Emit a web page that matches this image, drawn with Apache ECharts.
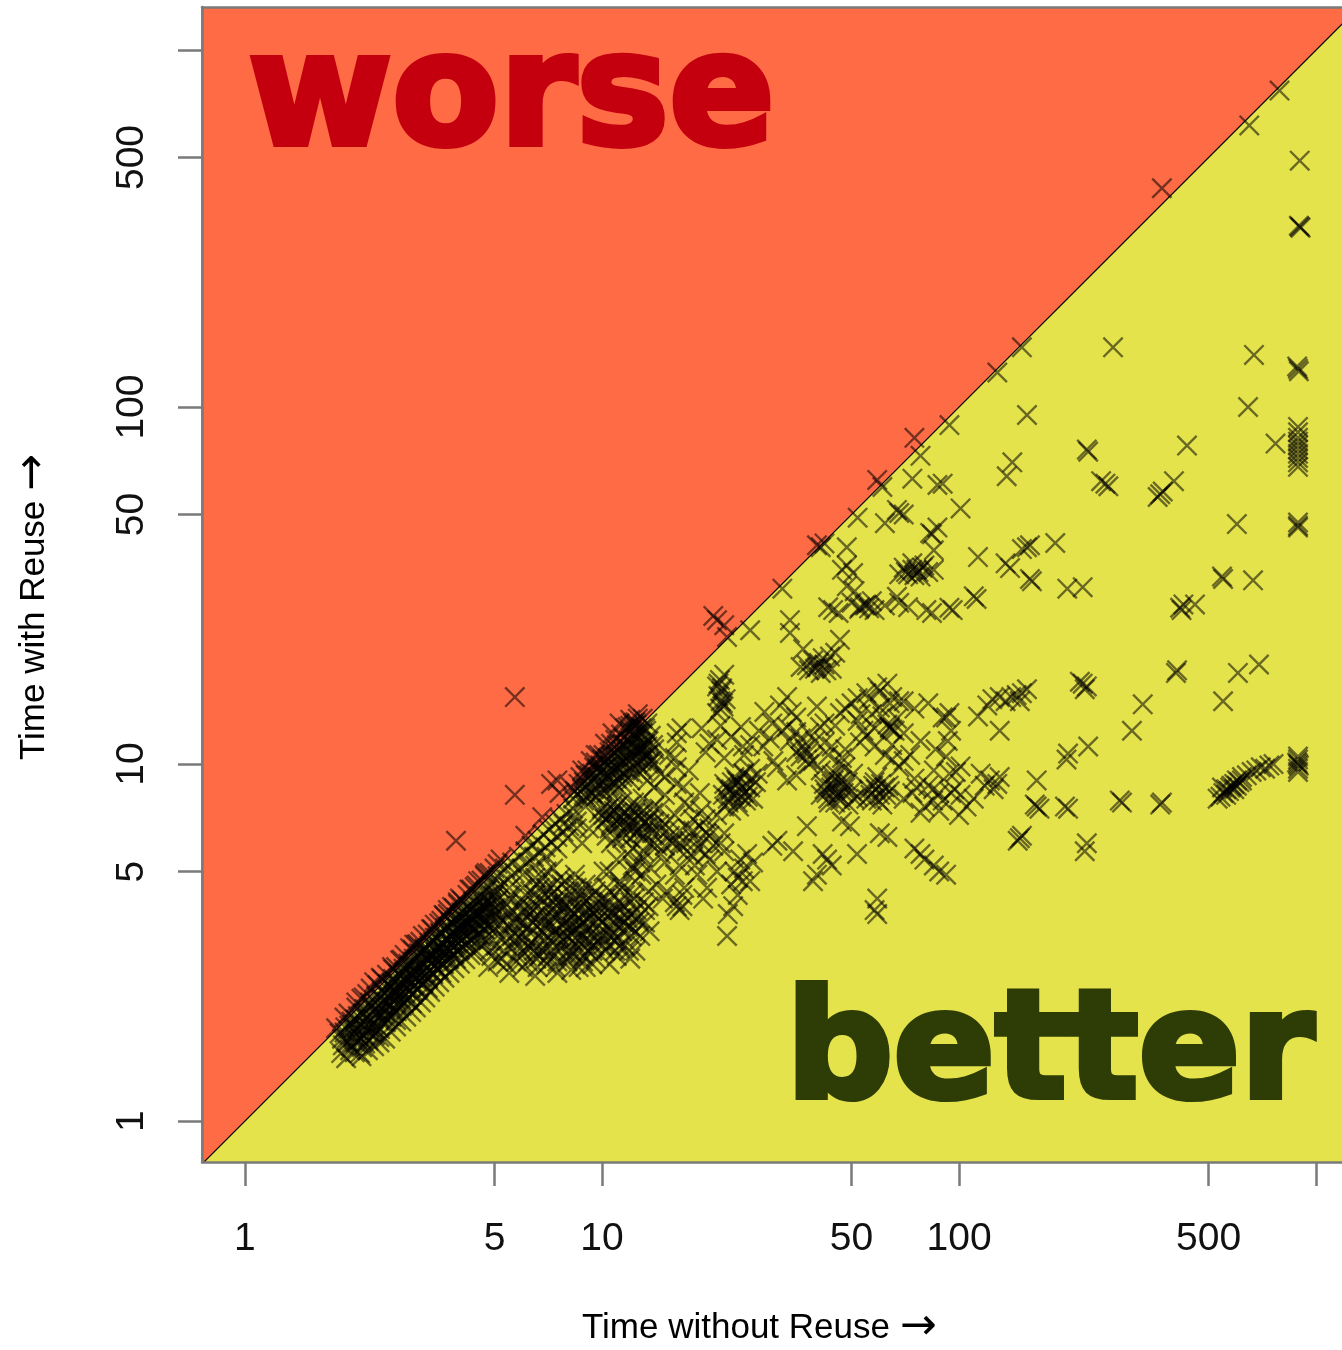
<!DOCTYPE html>
<html><head><meta charset="utf-8">
<script src="https://cdn.jsdelivr.net/npm/echarts@6/dist/echarts.min.js"></script>
<style>html,body{margin:0;padding:0;background:#fff}#chart{width:1342px;height:1350px}</style>
</head><body><div id="chart"></div>
<script>
// ---- axes (values in seconds, log scale) ----
const xTickValues = [1, 5, 10, 50, 100, 500, 1000];
const xLabelValues = [1, 5, 10, 50, 100, 500];
const yTickValues = [1, 5, 10, 50, 100, 500, 1000];
const yLabelValues = [1, 5, 10, 50, 100, 500];
const xRange = [0.758, 1182];
const yRange = [0.768, 1320];
const diagonal = [0.5, 2000];   // y = x reference line

// ---- data: [time without reuse, time with reuse] ----
const outliersWorse = [[5.7,15.4],[5.7,8.2],[3.9,6.1],[370,410],[21,25.3],[22,24.5],[20.5,26],[75,82],[5.2,5.4],[6.1,6.3],[6.8,7.1],[4.7,4.9]];

const diagonalBandLow = [
[1.84,1.76],[1.88,1.63],[1.91,1.83],[1.93,1.71],[1.97,1.58],[1.99,1.9],[2.02,1.77],[2.04,1.66],[2.07,1.97],[2.09,1.84],[2.11,1.7],[2.13,1.61],[2.16,2.06],[2.18,1.93],[2.19,1.79],[2.22,1.68],[2.24,2.15],[2.26,2.01],[2.28,1.87],[2.31,1.74],[2.33,2.24],[2.35,2.09],[2.37,1.95],[2.39,1.81],[2.42,2.31],[2.44,2.17],[2.46,2.03],[2.48,1.89],[2.51,2.42],[2.53,2.25],[2.55,2.11],[2.57,1.96],[2.6,2.5],[2.62,2.34],[2.64,2.19],[2.66,2.03],[2.69,2.58],[2.71,2.42],[2.73,2.27],[2.75,2.1],[2.78,2.67],[2.8,2.51],[2.82,2.35],[2.84,2.18],[2.87,2.76],[2.89,2.6],[2.92,2.43],[2.94,2.26],[2.97,2.85],[2.99,2.68],[3.02,2.51],[3.04,2.33],[3.07,2.95],[3.1,2.77],[3.12,2.6],[3.15,2.42],[3.18,3.04],[3.21,2.86],[3.23,2.68],[3.26,2.5],[3.29,3.15],[3.32,2.95],[3.34,2.77],[3.37,2.58],[3.4,3.26],[3.43,3.05],[3.46,2.86],[3.49,2.66],[3.52,3.37],[3.55,3.15],[3.58,2.95],[3.61,2.75],[3.64,3.48],[3.67,3.26],[3.7,3.05],[3.73,2.84],[3.77,3.6],[3.8,3.37],[3.83,3.15],[3.86,2.93],[3.9,3.72],[3.93,3.48],[3.96,3.25],[4.0,3.02],[4.04,3.85],[4.07,3.6],[4.11,3.36],[4.15,3.12],[4.19,3.98],[4.22,3.72],[4.26,3.47],[4.3,3.22],[4.35,4.12],[4.39,3.85],[4.43,3.58],[4.48,3.33],[4.53,4.27],[4.57,3.98],[4.62,3.7],[4.67,3.44],[4.73,4.42],[4.78,4.12],[4.84,3.83],[4.9,4.58],[4.96,4.26],[5.02,3.96],
[2.0,1.86],[2.14,1.98],[2.27,1.82],[2.41,2.12],[2.56,2.38],[2.68,2.22],[2.83,2.47],[2.96,2.73],[3.08,2.55],[3.22,2.93],[3.36,2.81],[3.5,3.08],[3.63,2.98],[3.78,3.3],[3.92,3.4],[4.06,3.7],[4.2,3.55],[4.36,3.95],[4.5,3.8],[4.66,4.05],[2.3,2.05],[2.62,2.28],[2.95,2.58],[3.3,2.9],[3.66,3.2],[4.02,3.52],[4.4,3.78],
[1.95,2.0],[2.2,2.27],[2.5,2.57],[2.75,2.83],[3.05,3.13],[3.35,3.44],[3.7,3.8],[4.05,4.15],[4.45,4.57],[4.85,4.95],
[2.1,1.55],[2.38,1.72],[2.65,1.92],[2.93,2.14],[3.25,2.36],[3.55,2.6],[3.9,2.85],[4.25,3.05],[4.6,3.28]
];

const diagonalBandDense = [
[1.87,1.7],[1.9,1.77],[1.94,1.66],[1.96,1.85],[2.01,1.72],[2.03,1.93],[2.06,1.8],[2.08,1.68],[2.12,1.87],[2.15,2.0],[2.17,1.74],[2.21,1.96],[2.23,1.83],[2.25,2.1],[2.29,1.93],[2.32,2.15],[2.34,1.79],[2.36,2.02],[2.4,2.22],[2.43,1.98],[2.45,2.28],[2.47,2.08],[2.5,1.92],[2.52,2.33],[2.54,2.15],[2.58,2.43],[2.59,2.05],[2.61,2.24],[2.63,2.46],[2.67,2.12],[2.7,2.35],[2.72,2.55],[2.74,2.2],[2.77,2.43],[2.79,2.62],[2.81,2.28],[2.86,2.52],[2.88,2.71],[2.9,2.32],[2.93,2.56],[2.95,2.8],[2.98,2.4],[3.01,2.62],[3.03,2.86],[3.06,2.45],[3.09,2.7],[3.11,2.94],[3.14,2.52],[3.17,2.78],[3.19,3.02],[3.22,2.58],[3.25,2.85],[3.28,3.1],[3.31,2.64],[3.33,2.9],[3.36,3.18],[3.39,2.72],[3.42,2.98],[3.45,3.26],[3.48,2.8],[3.51,3.05],[3.54,3.34],[3.57,2.86],[3.6,3.12],[3.63,3.42],[3.66,2.94],[3.69,3.2],[3.72,3.5],[3.75,3.0],[3.79,3.28],[3.82,3.58],[3.85,3.07],[3.88,3.36],[3.91,3.64],[3.95,3.14],[3.98,3.44],[4.02,3.72],[4.05,3.22],[4.09,3.52],[4.13,3.8],[4.17,3.3],[4.21,3.62],[4.24,3.9],[4.28,3.38],[4.32,3.7],[4.37,4.0],[4.41,3.46],[4.46,3.78],[4.5,4.1],[4.55,3.54],[4.6,3.88],[4.64,4.2],[4.69,3.62],[4.75,3.96],[4.8,4.3],[4.86,3.7],[4.92,4.05],[4.98,4.4],[5.05,3.8],[5.1,4.15],[5.15,4.5],
[2.05,2.08],[2.35,2.4],[2.65,2.7],[2.95,3.02],[3.25,3.33],[3.55,3.64],[3.85,3.95],[4.2,4.3],[4.6,4.72],[5.0,5.1],[1.8,1.82]
];

const diagonalBandWide = [
[1.86,1.55],[1.92,1.5],[1.98,1.62],[2.03,1.56],[2.08,1.74],[2.12,1.52],[2.17,1.65],[2.21,1.58],[2.26,1.76],[2.3,1.62],[2.34,1.85],[2.38,1.66],[2.43,1.9],[2.47,1.7],[2.52,1.98],[2.56,1.78],[2.61,2.02],[2.65,1.84],[2.7,2.08],[2.74,1.9],[2.79,2.14],[2.83,1.96],[2.88,2.22],[2.92,2.02],[2.97,2.3],[3.01,2.08],[3.06,2.36],[3.11,2.15],[3.16,2.44],[3.2,2.22],[3.25,2.52],[3.3,2.3],[3.35,2.6],[3.4,2.38],[3.45,2.68],[3.5,2.45],[3.56,2.76],[3.62,2.52],[3.68,2.84],[3.74,2.6],[3.8,2.92],[3.86,2.68],[3.93,3.0],[4.0,2.76],[4.07,3.08],[4.14,2.84],[4.21,3.16],[4.28,2.92],[4.36,3.24],[4.44,3.0],[4.52,3.34],[4.6,3.1],[4.7,3.45],[4.8,3.2],[4.9,3.55],
[2.02,1.82],[2.18,1.86],[2.33,2.0],[2.49,2.16],[2.64,2.3],[2.8,2.4],[2.96,2.52],[3.12,2.7],[3.28,2.82],[3.44,2.96],[3.6,3.02],[3.76,3.16],[3.92,3.3],[4.08,3.44],[4.24,3.58],[4.4,3.66],[4.56,3.82],[4.72,3.92],[4.88,4.1],
[2.12,2.2],[2.42,2.5],[2.72,2.82],[3.02,3.12],[3.32,3.45],[3.62,3.76],[3.95,4.1],[4.3,4.45],[4.7,4.85],[5.1,5.25]
];

const diagonalBandRedSide = [
[1.9,1.95],[2.05,2.15],[2.25,2.35],[2.4,2.52],[2.58,2.7],[2.8,2.92],[2.98,3.12],[3.15,3.3],[3.4,3.55],[3.6,3.78],[3.8,3.98],[4.0,4.2],[4.25,4.45],[4.5,4.7],[4.75,4.95],[2.15,2.22],[2.6,2.66],[3.1,3.18],[3.5,3.58],[3.95,4.05],[4.4,4.52],[2.3,2.45],[2.9,3.05],[3.7,3.9]
];

const diagonalBandMid = [
[5.1,4.85],[5.2,4.6],[5.35,5.1],[5.45,4.75],[5.6,5.3],[5.7,4.95],[5.85,5.5],[5.95,5.1],[6.1,5.7],[6.2,5.3],[6.35,5.9],[6.45,5.5],[6.6,6.1],[6.7,5.65],[6.85,6.35],[6.95,5.85],[7.1,6.55],[7.2,6.05],[7.4,6.8],[7.5,6.25],[7.65,7.0],[7.8,6.45],[7.95,7.25],[8.1,6.7],[8.3,7.5],[8.5,6.9],[5.0,4.3],[5.5,4.5],[6.0,4.9],[6.5,5.2],[6.8,4.8],[7.0,5.5],[7.3,5.1],[7.5,5.8],[7.8,6.8],[8.0,6.2],[8.3,7.2],[8.5,6.6],[8.8,6.0],[9.0,7.6],[9.2,6.6]
];

const lowerBlob = [
[4.6,3.2],[4.8,3.5],[4.9,2.9],[5.1,3.3],[5.2,3.7],[5.3,3.0],[5.4,2.75],[5.5,3.5],[5.6,3.9],[5.7,3.2],[5.8,2.9],[5.9,3.6],[6.0,4.1],[6.1,3.3],[6.2,2.8],[6.3,3.8],[6.4,3.1],[6.5,4.3],[6.6,3.5],[6.7,2.9],[6.8,3.9],[6.9,3.2],[7.0,4.5],[7.1,3.6],[7.2,3.0],[7.3,4.1],[7.4,3.4],[7.5,2.8],[7.6,3.8],[7.7,4.6],[7.8,3.2],[7.9,3.6],[8.0,4.2],[8.1,3.0],[8.2,3.9],[8.3,3.4],[8.4,4.7],[8.5,3.1],[8.6,3.7],[8.7,4.3],[8.8,3.3],[8.9,2.9],[9.0,3.9],[9.2,3.5],[9.3,4.5],[9.4,3.1],[9.5,3.8],[9.7,3.3],[9.8,4.1],[10.0,3.6],[10.2,3.0],[10.4,3.9],[10.6,3.4],[10.8,4.3],[11.0,3.2],[11.3,3.7],[11.6,3.1],[12.0,3.5],[12.4,3.0],[12.8,3.3],[13.2,3.6],[5.0,3.9],[5.5,4.2],[6.0,4.5],[6.5,4.8],[7.0,5.0],[6.2,3.5],[6.8,3.4],[7.4,3.7],[8.0,3.5],[8.6,3.2],[9.0,3.4],[5.8,3.4],[7.6,3.3],[8.4,3.8],[9.6,3.6],
[5.5,2.6],[6.5,2.55],[7.5,2.6],[9,2.7],[10.5,2.75],[12,2.85],[4.8,2.7],
[6.6,4.0],[7.2,4.3],[7.9,4.0],[8.8,3.6],[9.4,4.0],[6.4,3.6],[7.0,3.3],[7.7,3.1],[8.3,2.95],[5.3,3.6],[5.9,3.05],[6.9,3.75],[7.5,4.0],[8.1,3.65],[8.9,4.1],[9.9,3.4],[10.8,3.6],[11.5,4.0]
];

const lowerBlobDense = [
[5.05,3.1],[5.15,3.55],[5.25,2.85],[5.35,3.35],[5.45,3.8],[5.55,3.05],[5.65,3.6],[5.75,2.8],[5.85,3.25],[5.95,3.85],[6.05,2.95],[6.15,3.45],[6.25,4.0],[6.35,3.15],[6.45,3.7],[6.55,2.85],[6.65,3.3],[6.75,4.2],[6.85,3.05],[6.95,3.55],[7.05,4.05],[7.15,3.2],[7.25,3.75],[7.35,2.9],[7.45,3.45],[7.55,4.25],[7.65,3.05],[7.75,3.55],[7.85,4.05],[7.95,3.3],[8.05,3.8],[8.15,2.9],[8.25,3.5],[8.35,4.1],[8.45,3.25],[8.55,3.9],[8.65,2.95],[8.75,3.55],[8.85,4.2],[8.95,3.2],[9.05,3.7],[9.15,3.0],[9.25,3.9],[9.35,3.35],[9.45,4.3],[9.55,3.1],[9.65,3.75],[9.75,3.2],[9.9,3.95],[10.05,3.3],[10.3,3.75],[10.5,3.1],[10.7,3.85],[10.9,3.35],[11.2,4.1],[11.4,3.4],[11.7,3.8],[12.1,3.3],[12.5,3.9],[6.1,4.3],[6.7,4.5],[7.3,4.6],[7.9,4.7],[8.5,4.5],[5.4,4.05],[6.0,2.7],[7.0,2.75],[8.0,2.8],[8.6,2.7],[9.6,2.85],[11.0,2.9]
];

const lowerBlobWide = [
[4.7,3.6],[4.85,3.0],[5.0,3.45],[5.1,2.8],[5.25,3.9],[5.4,3.2],[5.55,4.3],[5.7,3.7],[5.85,4.0],[6.0,3.2],[6.15,3.85],[6.3,4.4],[6.45,3.0],[6.6,4.6],[6.75,3.6],[6.9,4.3],[7.05,2.9],[7.2,3.9],[7.35,4.4],[7.5,3.25],[7.65,4.8],[7.8,3.95],[7.95,2.85],[8.1,4.4],[8.25,3.2],[8.4,4.9],[8.55,3.45],[8.7,4.0],[8.85,2.8],[9.0,4.6],[9.2,3.7],[9.4,3.0],[9.6,4.4],[9.8,3.7],[10.0,3.1],[10.3,4.5],[10.6,3.8],[10.9,3.0],[11.2,4.6],[11.5,3.6],[11.9,3.0],[12.3,4.2],[12.7,3.6],[13.1,4.1],[13.6,3.4],[6.0,3.6],[6.4,3.9],[6.8,3.0],[7.2,3.5],[7.6,4.1],[8.0,3.3],[8.4,3.6],[8.8,4.4],[9.2,3.2],[9.6,3.9],[10.0,4.2],[10.4,3.5],[10.8,3.2],[11.2,3.5],[11.6,4.3],[12.0,3.8],[12.4,3.4],[5.6,3.3],[6.2,3.1],[6.6,2.7],[7.4,2.7],[8.2,2.65],[9.4,2.75]
];

const blobNearTen = [
[8.5,8.2],[9,8.6],[9,8.1],[9.5,9.1],[9.5,8.5],[10,9.6],[10,9],[10,8.5],[10.5,10],[10.5,9.3],[10.5,8.7],[11,10.5],[11,9.8],[11,9.1],[11,8.5],[11.5,10.8],[11.5,10.1],[11.5,9.4],[12,11.5],[12,10.6],[12,9.8],[12,9],[12.5,11.8],[12.5,10.9],[12.5,10.1],[13,12.2],[13,11.2],[13,10.4],[13.5,11.6],[13.5,10.7],[9.8,9.5],[10.8,9.9],[11.8,11],[12.8,11.5],[8.8,8.5],[9.3,8.9],[10.3,9.8],[11.3,10.3],[12.3,11.2],[13.3,12.4],[14,11],[14,10],
[11.2,13],[12,13.3],[10.7,12.2],[11.6,12.6],[10.2,11.4],[12.6,13.8],[9.8,10.6],[9.3,10.2],[8.8,9.6],[8.2,8.6],[8.7,9.2],[9.1,9.6],[9.6,10.1],[10.1,10.6],[7.5,9],[7.2,8.8],[7.6,8.3],
[9.8,7.3],[10.2,7],[10.8,7.4],[11.2,6.8],[11.8,7.2],[12.2,6.6],[12.8,7],[13.4,6.7],[10.5,6.6],[11.5,6.4],[12.5,7.5],[10,6.8],[11,7.6],[13,6.4],[14,6.9],[14.5,6.5],[14,6],[15,6.8],
[10.2,4.2],[10.8,3.8],[11.4,4.5],[12,4.1],[12.6,3.7],[10.5,3.3],[11.2,3.1],[11.8,3.5],[12.4,4.7],[10.1,5],[11,5.4],[12.2,5.2],[12.9,4.9],[13.5,4.4],[13.2,3.9]
];

const blobNearTenDense = [
[8.3,8.0],[8.6,8.8],[8.9,8.2],[9.2,9.3],[9.4,8.3],[9.7,9.7],[9.9,8.8],[10.2,10.1],[10.4,9.1],[10.6,10.5],[10.9,9.5],[11.1,10.9],[11.3,9.7],[11.6,11.3],[11.9,10.2],[12.1,11.8],[12.4,10.5],[12.7,12.2],[12.9,10.9],[13.2,12.6],[13.4,11.2],[13.7,12.0],[9.0,9.3],[9.5,9.8],[10.0,10.3],[10.5,10.8],[11.0,11.3],[11.5,11.8],[12.0,12.4],[12.5,12.9],[10.8,8.9],[11.4,8.8],[12.2,9.4],[12.9,9.8],[13.6,10.2],[9.6,8.1],[10.3,8.3],
[10.4,7.1],[11.0,6.9],[11.6,7.3],[12.1,6.9],[12.7,7.2],[13.2,6.9],[10.7,7.7],[11.9,7.6],
[8.4,8.4],[8.9,8.9],[9.4,9.4],[9.9,9.9],[10.4,10.4],[10.9,10.8],[11.4,11.3],[11.9,11.7],[12.4,12.2],[12.9,12.6],[13.4,13.0],[8.9,7.9],[9.4,8.2],[9.9,8.3],[10.4,8.6],[10.9,8.8],[11.4,9.2],[11.9,9.5],[12.4,9.7],[12.9,10.2],[13.4,10.6],[13.9,11.3],[9.7,9.2],[10.2,9.4],[10.7,9.6],[11.2,10.0],[11.7,10.4],[12.2,10.9],[12.7,11.0],[13.2,11.4],[10.6,11.4],[11.3,12.1],[12.3,12.8],[13.0,13.4],[9.6,10.6],[10.9,11.7],
[10.1,7.2],[10.6,6.8],[11.3,7.1],[11.7,6.7],[12.4,7.3],[12.9,6.7],[13.5,7.0],[10.4,7.5],[11.0,7.3],[12.0,7.1],[13.1,7.4],[13.8,6.6],
[10.3,6.3],[10.9,6.2],[11.5,6.9],[12.0,6.2],[12.6,6.5],[10.0,7.5],[11.3,7.8],[12.3,7.8],[10.6,7.2],[11.8,6.6]
];

const middleBand = [
[21.4,17.2],[21,16.5],[22,17.8],[21.6,16],[21.8,14.8],[21.4,14.3],[22.2,15.2],[21,13.9],
[33,15.4],[21,11.7],[16.2,11.5],[16.2,9.8],[12.2,13],[12.6,13.4],[11.8,12.7],
[55,15.8],[60,16],[52,15.3],[59,16.4],[63,16.8],[65,15.4],[70,15],[46.4,13.9],[48,14.3],
[64,12.6],[66,12.4],[63,12.9],[52.8,11.5],[37.5,10.7],[36,10.5],[33,12.7],[35,12.3],[40.8,12.7],[42,13],
[28.3,11.2],[24.8,11.2],[30.9,9.8],[24.8,9.4],[26,9.7],
[22,8.8],[23,8.5],[24,8.9],[25,8.3],[22.5,8],[24,7.8],[26,8.6],[23.5,9.2],[22,7.6],[25,9.4],[27,8.9],[26.5,8],[23,7.4],[24.5,8.1],[22.8,8.4],[25.5,8.7],[21.8,8.2],
[27.3,9.4],[30.2,10.2],
[42,8.5],[44,8.8],[46,8.2],[48,8.6],[45,7.8],[43,8],[50,8.4],[47,9],[44,9.3],[41,8.2],[49,7.7],[46,8.9],[52,8.1],[45,8.5],
[56,8.5],[58,8.9],[60,8.2],[62,8.6],[57,7.9],[64,8.4],[59,9.2],[55,8],[61,7.7],
[37.5,10.3],[38,10],[33,9],[35,9.3],[36.6,11.2],[46.4,10],[50.5,9.4],
[84.6,8.5],[82,8.7],[88,8.3],[84.6,7.9],[94,9.4],[68,9.8],[70,10.2],[65,10.3],[74,8.3],[76,8.6],[78,7.3],[88,7.4],
[49.5,6.7],[47,6.9],[37.5,6.7],[63,6.25],[60,6.4],[51.8,5.6],[42.7,5.4],[44,5.2],[41.5,5.6],[78,5.6],[75,5.8],[80,5.4],[88,5],[85,5.2],[92,4.9],[59,4.2],[58,3.9],[59,3.8],
[34.3,5.7],[30,5.9],[31,6.1],[25.5,5.6],[26.5,5.3],[39,4.7],[40,4.9],
[24.4,5.4],[23.5,5],[25,5.1],[24,4.8],[26,4.7],[23,4.6],[24.8,4.7],[23.3,4],[24,4.3],[22.5,3.8],[22.4,3.3],
[16.2,4],[16.5,3.9],[16,4.1],[16.8,4],[19.7,4.5],[17.3,5.7],[18,5.5],[20.5,5.9],[19.5,5.6],[21.5,6],[20,6.3],[22,5.7],
[18.8,6.7],[18,6.5],[19.5,7],[17.6,7.6],[13.9,7.3],[14.5,7.5],[13,6.25],[12.5,6.4],[13.6,6],[15.8,6.1],[16.5,6],[15,5.9],
[12.2,5.1],[12.8,5.3],[11.2,3.9],[10.5,4.1],[11.8,3.7],[12.2,4.35],[16.2,12.2],[16.7,12.6],[13,9.6],[13.5,10],[16.9,8.6],[18.8,8.3],
[35,13.5],[38,12.2],[42,11.5],[45,12.8],[48,11],[55,12],[58,11.2],[62,10.6],[52,13.2],[57,13.8],[40,14.5],[36,11.8],
[68,15],[75,14.3],[82,14.8],[90,13.5],[95,12.4],[70,12.2],[78,11.6],[86,11],[92,10.5],[65,11.3],[73,10.6],
[70,8.0],[80,7.6],[90,7.9],[95,8.3],[75,9.1],[85,9.6],[100,7.2],[105,7.6],[110,8.0],
[13,8],[14,7.6],[15,8.2],[16,7.2],[17,7.8],[18,7.0],[19,7.4],[14.5,6.8],[16.5,6.5],[18,6.2],[20,6.6],[21,7.2],[22,6.4],[15.5,6.3]
];

const middleClusters = [
[22.3,8.6],[23.4,8.2],[24.6,8.6],[25.6,8.1],[23.8,9.0],[26.2,9.1],[22.6,7.8],[24.2,7.6],[25.3,7.9],[23.1,8.9],
[42.5,8.3],[43.8,8.6],[45.5,8.1],[47.5,8.3],[48.8,8.9],[44.6,9.0],[46.5,7.9],[43.2,7.8],[50.8,8.0],[41.8,8.8],
[56.5,8.2],[58.5,8.5],[60.5,8.8],[62.5,8.2],[57.5,8.7],[59.5,7.9],[63.5,8.7],
[21.2,16.8],[21.7,16.3],[21.5,15.0],[21.9,14.5],[21.2,15.5],
[39.5,18.5],[40.5,19.2],[42.5,18.3],[41.5,19.8],[37.5,18.9],
[74,35],[77,34.5],[79,35.5],[71,34.5],[75,33.8],
[52.5,27.2],[54.5,27.8],[56,27.3],
[64,12.7],[65,12.5],[12.4,13.1],[12.0,12.8],
[10.5,5.0],[11.2,4.7],[11.8,5.6],[12.4,5.0],[13.1,5.7],[13.7,5.1],[14.3,5.9],[15,5.3],[15.8,6.0],[16.5,5.2],[17.2,6.0],[18.2,5.2],[19,6],[10.6,6.0],[11.4,6.2],[12.2,5.8],[13,5.5],[13.8,6.4],[14.6,5.6],[15.4,6.6],[16.3,5.8],[17.4,6.6],[18.6,5.8],[19.6,6.4],[14.2,4.6],[15.2,4.4],[16,4.9],[17,4.5],[18.5,4.9],[20,5.4],[21,5.0],[13.5,4.0],[14.8,4.2],[16.8,4.3],[19.2,4.2]
];

const middleCloud = [
[13,11],[13.8,10.2],[14.6,9.4],[15.4,10.6],[16.2,8.8],[14,8.6],[15,9.2],[13.4,9],[16,10.4],[17.5,9.6],
[19,12.6],[20,11.4],[21.5,12.8],[23,11.9],[24.5,12.7],[26,11.3],[27.5,12.4],[19.5,10.8],[22,10.4],[25,10.6],
[28.5,14],[30,13],[31.5,14.6],[33.5,11.6],[35,10.8],[29.5,11.8],[32,12.4],[34,14],
[37,11],[39,10.2],[41,9.6],[43,10.6],[45,9.4],[47,10.4],[39.5,11.6],[44,11.2],[48,9.8],
[50,14.8],[53,13.8],[56,15.2],[58,12.6],[61,13.6],[64,14.8],[67,13.4],[54,12.4],[60,14.4]
];

const middleUpper = [
[78,73],[74,63],[87,60.5],[61,59.7],[59,62.5],[68,50.5],[70,50],[67,51.5],[52,49],[62,47.3],[87,46],[84,44],[83,44.4],[41,40.5],[40,41],[42,41.5],[48.5,40.5],[85,39.7],[48.5,36],[47,35],
[76,35],[72,34],[80,36],[70,35.5],[78,33.5],[82,34.5],[74,36.5],[68,34],[85,35],
[50.5,34.3],[48.5,31.5],[51,30.5],[32,31],[67,29.4],
[22.4,22.7],[26,23.7],[33.6,25.3],[33.6,23.3],[36.6,21],
[44.4,27],[46,26.5],[43,27.5],[46.4,22.3],
[40,18.7],[38,18.3],[42,19],[44,18.5],[39,19.5],[41,18],[36,18.7],[43.5,20],[45,20.5],
[52.8,27.5],[55,28],[58,27],[50,28.3],[57,28.6],[62,27.8],[68,28.3],[72,27.5],[81,27],[84,26.5]
];

const upperSparse = [
[790,770],[650,615],[900,490],[900,320],[905,318],[895,322],[270,147],[670,140],[150,147],[128,125],[94,89],[155,95],[890,128],[895,126],[885,130],[645,100],[770,79],
[890,88],[890,85],[890,82],[890,80],[890,78],[890,76],[890,74],[890,72],[890,70],[890,68],
[435,78],[230,75],[228,76],[400,62],[366,57],[360,56],[372,58],[257,61],[262,60],[250,62],
[141,70],[136,64],[101,52],[90,61],[600,47],[890,46.5],[890,47.5],[890,46],
[186,41.6],[155,40.5],[150,40],[158,41],[113,38],[139,35.4],[135,36.5],[158,33],[160,32.5],
[94,27.4],[96,27],[112,29],[110,29.5],[201,31],[222,31.3],[549,33],[545,33.5],[666,32.7],
[416,27.4],[420,27],[425,28],[458,28]
];

const rightLower = [
[408,18.3],[405,18],[604,18],[692,19],[549,15],[327,14.7],[305,12.4],
[222,16.8],[218,17],[228,16.5],[225,16.2],[230,11.2],[202,10.7],[200,10.3],[165,9],
[145,15.6],[140,15.4],[150,15.8],[135,15],[130,15.4],[155,16.2],[148,15],
[124,15.2],[120,14.6],[113,13.6],[130,12.4],[94,13.9],[92,13.5],[93,11.6],[101,9.85],[98,9.5],
[122,9],[118,8.7],[128,8.8],[115,9.4],[125,8.5],[130,9.2],[101,8.2],[97,8.5],
[148,6.2],[146,6.1],[150,6.3],[165,7.6],[163,7.7],[168,7.5],[202,7.5],[198,7.6],[228,6],[225,5.7],
[286,7.8],[282,7.9],[370,7.8],[366,7.7],
[540,8.1],[550,8.3],[560,8.5],[570,8.4],[580,8.7],[590,8.8],[600,9.0],[610,8.9],[620,9.2],[640,9.3],[660,9.5],[680,9.6],[700,9.8],[560,8.2],[575,8.6],[590,8.5],[620,9.0],[530,8.0],[545,8.6],[600,8.7],[720,9.7],[740,9.9],[760,10.0],
[890,10.3],[890,10],[890,9.7],[890,10.5],[890,9.5],[885,10.1],[895,9.9]
];

const L = v => Math.log10(v);
const allPoints = [].concat(outliersWorse, diagonalBandLow, diagonalBandDense, diagonalBandWide, diagonalBandRedSide, diagonalBandMid,
  lowerBlob, lowerBlobDense, lowerBlobWide, blobNearTen, blobNearTenDense, middleBand, middleClusters, middleCloud,
  middleUpper, upperSparse, rightLower);
const scatterData = allPoints.map(p => [L(p[0]), L(p[1])]);
const diagData = diagonal.map(v => [L(v), L(v)]);
const fmt = v => String(Math.round(Math.pow(10, v)));

const AX = '#7a7a7a';
const titleRich = {
  t: {fontSize: 35, fontFamily: 'Liberation Sans', color: '#111'},
  a: {fontSize: 44, fontFamily: 'DejaVu Sans', color: '#111'}
};
const chart = echarts.init(document.getElementById('chart'), null, {renderer: 'canvas'});
chart.setOption({
  animation: false,
  backgroundColor: '#ffffff',
  grid: {left: 202, right: 0, top: 7, bottom: 188, show: true, backgroundColor: '#E5E34C', borderWidth: 0},
  xAxis: [{
    type: 'value', position: 'bottom', min: L(xRange[0]), max: L(xRange[1]), z: 6,
    axisLine: {show: true, onZero: false, lineStyle: {color: AX, width: 2.5}},
    axisTick: {show: true, inside: false, length: 24, customValues: xTickValues.map(L), lineStyle: {color: AX, width: 2.5}},
    axisLabel: {show: true, customValues: xLabelValues.map(L), formatter: fmt, margin: 58, fontSize: 39, fontFamily: 'Liberation Sans', color: '#111'},
    splitLine: {show: false}
  }, {
    type: 'value', position: 'top', min: L(xRange[0]), max: L(xRange[1]), z: 6,
    axisLine: {show: true, onZero: false, lineStyle: {color: AX, width: 2.5}},
    axisTick: {show: false}, axisLabel: {show: false}, splitLine: {show: false}
  }],
  yAxis: [{
    type: 'value', position: 'left', min: L(yRange[0]), max: L(yRange[1]), z: 6,
    axisLine: {show: true, onZero: false, lineStyle: {color: AX, width: 2.5}},
    axisTick: {show: true, inside: false, length: 24, customValues: yTickValues.map(L), lineStyle: {color: AX, width: 2.5}},
    axisLabel: {show: true, rotate: 90, customValues: yLabelValues.map(L), formatter: fmt, margin: 50, fontSize: 39, fontFamily: 'Liberation Sans', color: '#111'},
    splitLine: {show: false}
  }],
  series: [{
    type: 'line', xAxisIndex: 0, yAxisIndex: 0, data: diagData, symbol: 'none', silent: true, clip: true, z: 1,
    lineStyle: {color: '#000', width: 1.2},
    areaStyle: {color: '#FF6B45', opacity: 1, origin: 'end'}
  }, {
    type: 'scatter', xAxisIndex: 0, yAxisIndex: 0, data: scatterData, z: 5, silent: true,
    symbol: 'path://M0,0.8L0.8,0L10,9.2L9.2,10ZM9.2,0L10,0.8L0.8,10L0,9.2Z',
    symbolSize: 21,
    itemStyle: {color: 'rgba(0,0,0,0.68)'}
  }],
  graphic: [
    {type: 'text', z: 3, style: {text: 'worse', x: 248, y: 103, fill: '#C4000F', stroke: '#C4000F', lineWidth: 6,
      font: 'bold 156px "DejaVu Sans"', textAlign: 'left', align: 'left', textVerticalAlign: 'middle', verticalAlign: 'middle'}},
    {type: 'text', z: 3, style: {text: 'better', x: 786, y: 1058, fill: '#2E3C05', stroke: '#2E3C05', lineWidth: 6,
      font: 'bold 150px "DejaVu Sans"', textAlign: 'left', align: 'left', textVerticalAlign: 'middle', verticalAlign: 'middle'}},
    {type: 'text', z: 3, style: {text: '{t|Time without Reuse }{a|\u2192}', rich: titleRich, x: 582, y: 1328,
      textAlign: 'left', align: 'left', textVerticalAlign: 'middle', verticalAlign: 'middle'}},
    {type: 'text', z: 3, x: 34, y: 760, rotation: Math.PI / 2, style: {text: '{t|Time with Reuse }{a|\u2192}', rich: titleRich, x: 0, y: 0,
      textAlign: 'left', align: 'left', textVerticalAlign: 'middle', verticalAlign: 'middle'}}
  ]
});
</script>
</body></html>
